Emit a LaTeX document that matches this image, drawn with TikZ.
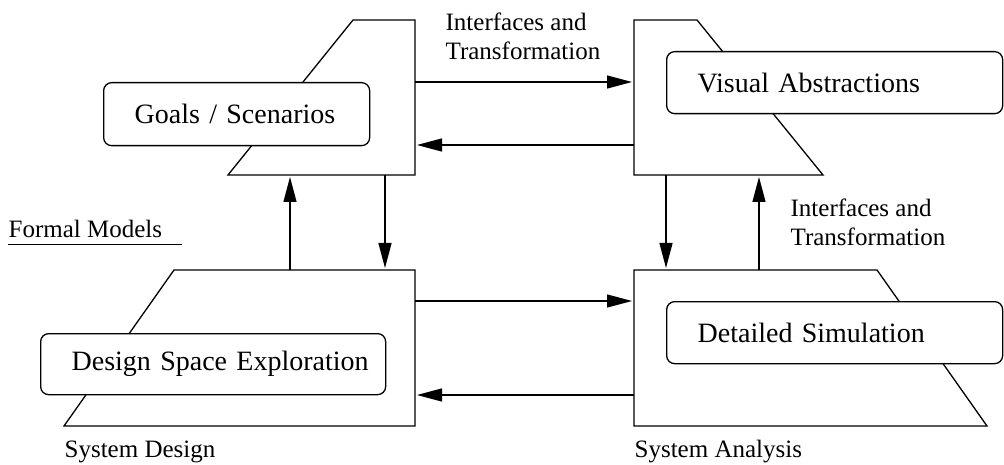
\documentclass[tikz,border=0pt]{standalone}
\usepackage{fontspec}
\setmainfont{Liberation Serif}
\usetikzlibrary{arrows.meta}
\begin{document}
\begin{tikzpicture}[x=1pt,y=-1pt,
  line width=1.3pt,
  trap/.style={draw, fill=white, line join=miter},
  box/.style 2 args={draw, fill=white, rounded corners=8pt, anchor=north west,
    inner xsep=31pt, inner ysep=0pt, align=left,
    minimum width=#1, minimum height=#2, text width=#1pt-62pt,
    font=\fontsize{28}{32}\selectfont},
  lbl/.style={inner sep=0pt, anchor=base west, align=left,
    font=\fontsize{25}{29}\selectfont},
  arr/.style={-{Triangle[length=25pt,width=13pt]}, shorten >=2pt}]
\useasboundingbox (0,0) rectangle (1004,465);
% trapezoids
\draw[trap] (353,20) -- (415,20) -- (415,175) -- (228,175) -- cycle;
\draw[trap] (634,20) -- (697,20) -- (823,175) -- (634,175) -- cycle;
\draw[trap] (174,270) -- (415,270) -- (415,426) -- (64,426) -- cycle;
\draw[trap] (634,270) -- (877,270) -- (987,426) -- (634,426) -- cycle;
% rounded boxes
\node[box={266}{63}] (goals) at (103,82) {\mbox{Goals / Scenarios}};
\node[box={336}{62}] (visual) at (666,51) {\mbox{Visual Abstractions}};
\node[box={345}{61}] (design) at (40,333) {\mbox{Design Space Exploration}};
\node[box={336}{62}] (detail) at (666,301) {\mbox{Detailed Simulation}};
% connector ends
\coordinate (tlR1) at (415,82);  \coordinate (trL1) at (634,82);
\coordinate (tlR2) at (415,145); \coordinate (trL2) at (634,145);
\coordinate (blR1) at (415,301); \coordinate (brL1) at (634,301);
\coordinate (blR2) at (415,395); \coordinate (brL2) at (634,395);
\coordinate (tlB1) at (290,175); \coordinate (blT1) at (290,270);
\coordinate (tlB2) at (385,175); \coordinate (blT2) at (385,270);
\coordinate (trB1) at (666,175); \coordinate (brT1) at (666,270);
\coordinate (trB2) at (759,175); \coordinate (brT2) at (759,270);
% connectors
\draw[arr] (tlR1) -- (trL1);
\draw[arr] (trL2) -- (tlR2);
\draw[arr] (blR1) -- (brL1);
\draw[arr] (brL2) -- (blR2);
\draw[arr] (blT1) -- (tlB1);
\draw[arr] (tlB2) -- (blT2);
\draw[arr] (trB1) -- (brT1);
\draw[arr] (brT2) -- (trB2);
% labels
\node[lbl] (if1) at (445,60) {Interfaces and\\Transformation};
\node[lbl] (if2) at (790,246) {Interfaces and\\Transformation};
\node[lbl] (formal) at (8,238) {Formal Models};
\coordinate (ulA) at (8,245); \coordinate (ulB) at (182,245);
\draw[line width=1pt] (ulA) -- (ulB);
\node[lbl] (sysd) at (64,457) {System Design};
\node[lbl] (sysa) at (634,457) {System Analysis};
\end{tikzpicture}
\end{document}
